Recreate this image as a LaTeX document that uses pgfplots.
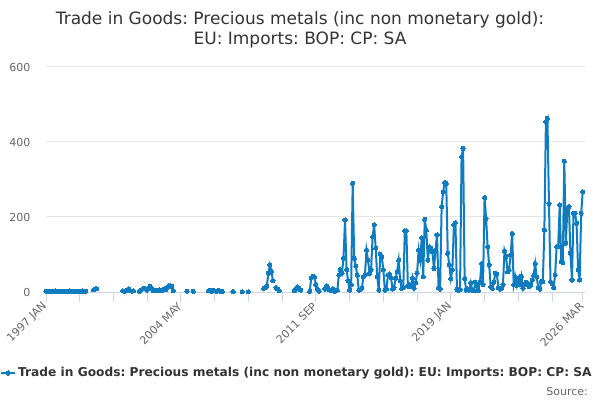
\documentclass[border=0pt]{standalone}
\usepackage{pgfplots}
\pgfplotsset{compat=1.18}
\usepackage{fontspec}
\setmainfont{DejaVu Sans}
\frenchspacing
\definecolor{series}{RGB}{15,124,194}
\definecolor{titlec}{HTML}{333333}
\definecolor{tickc}{HTML}{666666}
\definecolor{gridc}{HTML}{E6E6E6}
\definecolor{axisc}{HTML}{CCD6EB}
\begin{document}
\begin{tikzpicture}
\begin{axis}[
  at={(46bp,108bp)}, anchor=south west,
  scale only axis, width=539bp, height=225bp,
  xmin=0, xmax=351.5, ymin=0, ymax=600,
  axis x line*=bottom, axis y line*=left,
  y axis line style={draw=none},
  x axis line style={color=axisc, line width=1bp},
  ytick={0,200,400,600},
  ymajorgrids, grid style={color=gridc, line width=1bp},
  major y tick style={draw=none},
  xtick={0,88,176,264,350},
  xticklabels={1997 JAN,2004 MAY,2011 SEP,2019 JAN,2026 MAR},
  minor xtick={22,44,66,110,132,154,198,220,242,286,308,330},
  xtick align=outside,
  major tick length=10bp, minor tick length=10bp,
  x tick style={color=axisc, line width=1bp},
  /pgf/number format/assume math mode=true,
  yticklabel style={font=\fontsize{11bp}{13bp}\selectfont, color=tickc, anchor=east, xshift=-12bp},
  xticklabel style={font=\fontsize{11bp}{13bp}\selectfont, color=tickc, rotate=45, anchor=east, xshift=1bp, yshift=-1bp},
  unbounded coords=jump,
  legend style={at={(-0.0853,-0.36)}, anchor=west, draw=none, fill=none,
    font=\fontsize{12.2bp}{14bp}\selectfont\bfseries, text=titlec, inner sep=0pt},
  legend cell align=left,
  legend image code/.code={\draw[mark repeat=2,mark phase=2,#1] plot coordinates {(0bp,0bp) (7bp,0bp) (14bp,0bp)};},
]
\addplot[color=series, line width=2bp, mark=*, mark size=2.1bp, mark options={fill=series, draw=series, line width=0pt}] coordinates {
(0,2)(1,1)(2,2)(3,2)(4,1)(5,2)(6,3)(7,2)(8,1)(9,2)(10,2)(11,2)(12,1)(13,2)(14,2)(15,3)(16,2)(17,2)(18,1)(19,2)(20,2)(21,2)(22,1)(23,2)(24,3)(25,2)(26,2)(27,nan)
(31,6)(32,8)(33,9)(34,nan)
(50,3)(51,2)(52,4)(53,5)(54,8)(55,4)(56,2)(57,3)(58,nan)
(61,2)(62,5)(63,8)(64,9)(65,8)(66,5)(67,10)(68,15)(69,8)(70,4)(71,3)(72,5)(73,4)(74,6)(75,3)(76,5)(77,8)(78,6)(79,10)(80,17)(81,17)(82,15)(83,3)(84,nan)
(92,2)(93,nan)(96,2)(97,nan)
(106,3)(107,4)(108,2)(109,5)(110,3)(111,2)(112,4)(113,3)(114,2)(115,2)(116,nan)
(122,1)(123,nan)(128,1)(129,nan)(132,1)(133,nan)
(142,10)(143,12)(144,15)(145,50)(146,72)(147,55)(148,30)(149,nan)(150,12)(151,8)(152,3)(153,nan)
(162,3)(163,8)(164,14)(165,10)(166,5)(167,nan)
(172,2)(173,38)(174,42)(175,40)(176,20)(177,8)(178,2)(179,nan)
(182,8)(183,17)(184,10)(185,5)(186,3)(187,8)(188,2)(189,3)(190,5)(191,45)(192,60)(193,50)(194,90)(195,192)(196,60)(197,30)(198,5)(199,19)
(200,290)(201,90)(202,69)(203,45)(204,5)(205,6)(206,10)(207,41)(208,45)(209,112)(210,85)(211,50)(212,60)(213,148)(214,179)(215,117)(216,41)(217,5)(218,101)(219,94)
(220,59)(221,5)(222,8)(223,45)(224,48)(225,38)(226,8)(227,12)(228,37)(229,54)(230,85)(231,30)(232,10)(233,12)(234,163)(235,163)(236,16)(237,20)(238,15)(239,37)
(240,10)(241,25)(242,50)(243,112)(244,85)(245,144)(246,41)(247,194)(248,165)(249,85)(250,120)(251,118)(252,107)(253,63)(254,112)(255,152)(256,11)(257,8)(258,228)(259,267)
(260,292)(261,290)(262,103)(263,72)(264,36)(265,59)(266,179)(267,185)(268,7)(269,5)(270,6)(271,361)(272,383)(273,36)(274,5)(275,8)(276,5)(277,25)(278,5)(279,3)
(280,26)(281,16)(282,4)(283,26)(284,76)(285,20)(286,252)(287,196)(288,121)(289,72)(290,14)(291,10)(292,26)(293,50)(294,48)(295,12)(296,8)(297,10)(298,20)(299,110)
(300,95)(301,54)(302,58)(303,99)(304,156)(305,19)(306,41)(307,18)(308,36)(309,20)(310,42)(311,10)(312,20)(313,26)(314,24)(315,14)(316,20)(317,32)(318,45)(319,76)
(320,40)(321,12)(322,8)(323,28)(324,28)(325,165)(326,454)(327,463)(328,236)(329,28)(330,22)(331,12)(332,45)(333,121)(334,121)(335,232)(336,81)(337,78)(338,349)(339,130)
(340,223)(341,228)(342,103)(343,32)(344,210)(345,210)(346,183)(347,59)(348,32)(349,210)(350,267)
};
\addlegendentry{Trade in Goods: Precious metals (inc non monetary gold): EU: Imports: BOP: CP: SA}
\end{axis}
\node[anchor=base, text=titlec, font=\fontsize{17bp}{20bp}\selectfont] at (300bp,375bp) {Trade in Goods: Precious metals (inc non monetary gold):};
\node[anchor=base, text=titlec, font=\fontsize{17bp}{20bp}\selectfont] at (300bp,355bp) {EU: Imports: BOP: CP: SA};
\node[anchor=base east, text=tickc, font=\fontsize{11bp}{13bp}\selectfont, inner sep=0pt] at (588bp,5bp) {Source:};
\pgfresetboundingbox
\path[use as bounding box] (0,0) rectangle (600bp,400bp);
\end{tikzpicture}
\end{document}
